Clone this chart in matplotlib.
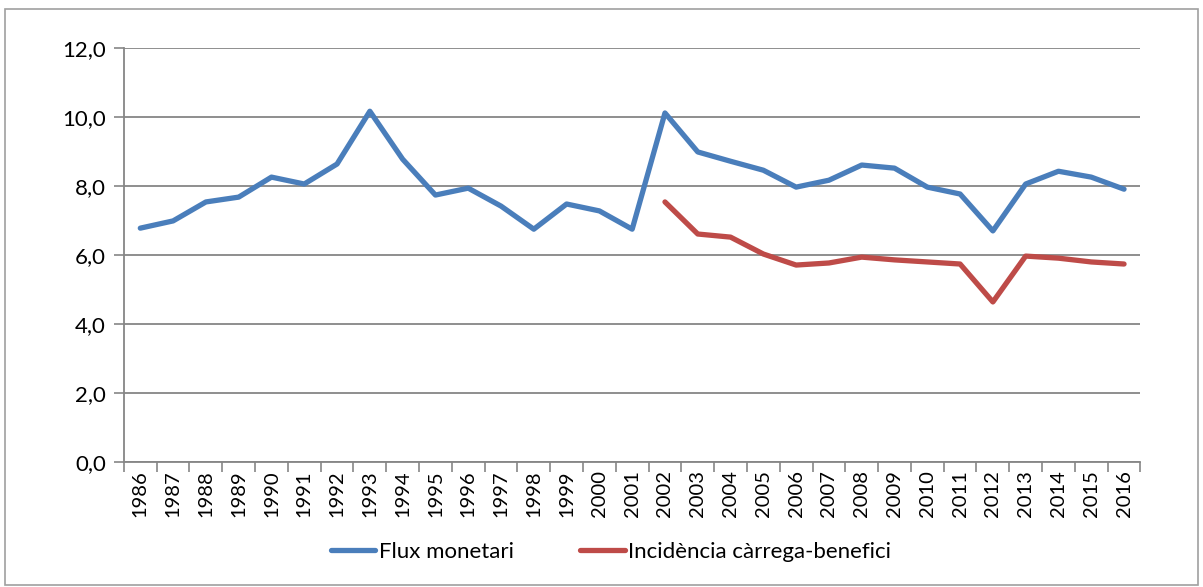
import matplotlib.pyplot as plt
from matplotlib.ticker import FuncFormatter
from matplotlib.patches import Rectangle

years = list(range(1986, 2017))
flux = [6.78, 6.99, 7.54, 7.68, 8.26, 8.06, 8.64, 10.17, 8.78, 7.74,
        7.94, 7.42, 6.75, 7.48, 7.28, 6.75, 10.12, 8.99, 8.72, 8.46,
        7.97, 8.17, 8.61, 8.52, 7.97, 7.77, 6.70, 8.06, 8.43, 8.26, 7.91]
incid_years = list(range(2002, 2017))
incid = [7.54, 6.61, 6.52, 6.03, 5.71, 5.77, 5.94, 5.86, 5.80, 5.74,
         4.64, 5.97, 5.91, 5.80, 5.74]

blue = '#4a7ebb'
red = '#be4b48'
grid_col = '#868686'

plt.rcParams['font.family'] = ['Lato', 'DejaVu Sans']

fig = plt.figure(figsize=(12.03, 5.87), dpi=100)
ax = fig.add_axes([0.103, 0.213, 0.845, 0.705])

ax.plot(years, flux, color=blue, lw=3.8, solid_capstyle='round',
        label='Flux monetari')
ax.plot(incid_years, incid, color=red, lw=3.8, solid_capstyle='round',
        label='Incidència càrrega-benefici')

ax.set_ylim(0, 12)
ax.set_yticks([0, 2, 4, 6, 8, 10, 12])
ax.yaxis.set_major_formatter(FuncFormatter(lambda v, p: f'{v:.1f}'.replace('.', ',')))
ax.set_xlim(1985.5, 2016.5)
ax.set_xticks(years)
ax.set_xticklabels([str(y) for y in years], rotation=90)
ax.set_xticks([y - 0.5 for y in years] + [2016.5], minor=True)
ax.tick_params(axis='x', which='major', length=0, pad=6, labelsize=14.5)
ax.tick_params(axis='x', which='minor', length=7, color=grid_col, width=1.2)
ax.tick_params(axis='y', length=7, color=grid_col, width=1.2, labelsize=16, pad=6)

ax.grid(axis='y', color=grid_col, lw=1.3)
ax.set_axisbelow(True)
for s in ['top', 'right']:
    ax.spines[s].set_visible(False)
for s in ['left', 'bottom']:
    ax.spines[s].set_color(grid_col)
    ax.spines[s].set_linewidth(1.3)

fig.legend(loc='center', bbox_to_anchor=(0.508, 0.06), ncol=2, frameon=False,
           fontsize=16, handlelength=2.0, handletextpad=0.15, columnspacing=3.0)

fig.patches.append(Rectangle((0.004, 0.003), 0.992, 0.982, transform=fig.transFigure,
                             fill=False, edgecolor='#a0a0a0', lw=1.2))

fig.savefig('out.png', dpi=100)
